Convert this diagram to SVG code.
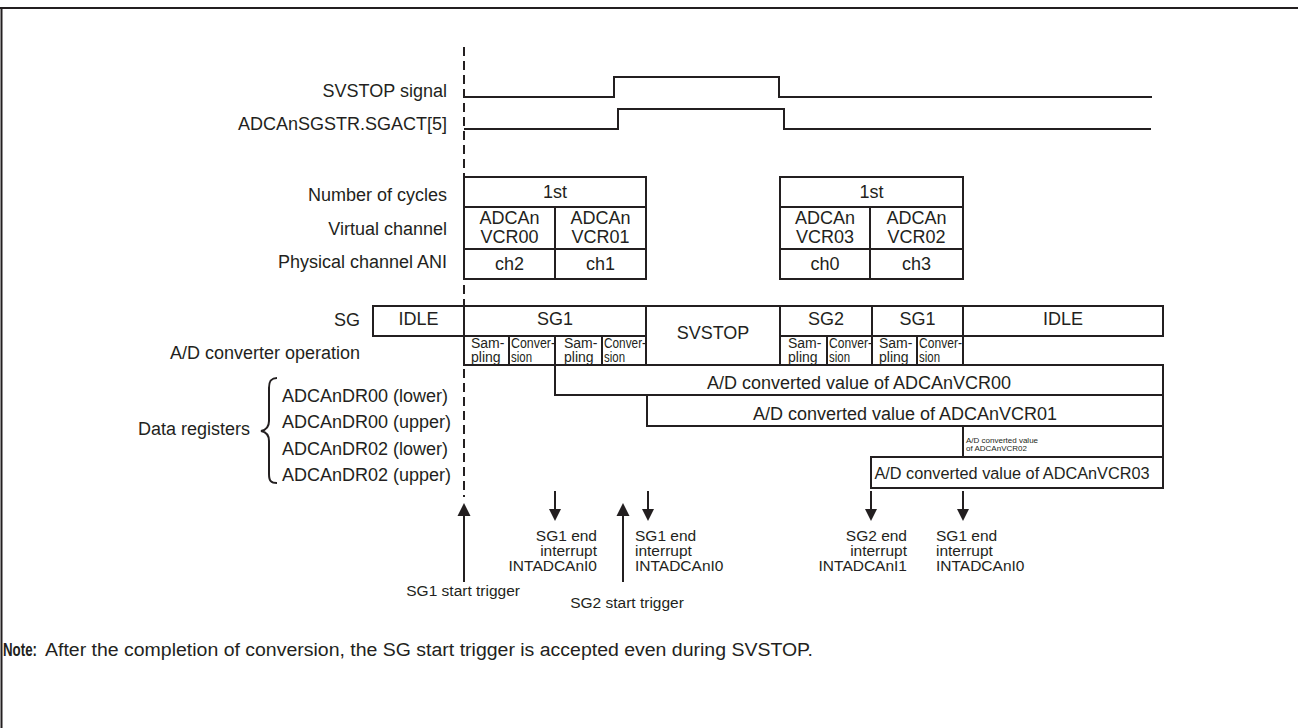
<svg xmlns="http://www.w3.org/2000/svg" width="1298" height="728" viewBox="0 0 1298 728">
<style>
.t{font-family:"Liberation Sans",Arial,sans-serif;font-size:18px;fill:#231f20}
.t16{font-family:"Liberation Sans",Arial,sans-serif;font-size:16.3px;fill:#231f20}
.m{font-family:"Liberation Sans",Arial,sans-serif;font-size:15.5px;fill:#231f20}
.s{font-family:"Liberation Sans",Arial,sans-serif;font-size:14px;fill:#231f20}
.xs{font-family:"Liberation Sans",Arial,sans-serif;font-size:8px;fill:#231f20}
.r{text-anchor:end}
.c{text-anchor:middle}
.b{fill:#fff;stroke:#231f20;stroke-width:2}
.l{fill:none;stroke:#231f20;stroke-width:2}
.ah{fill:#231f20;stroke:none}
</style>
<rect x="0" y="0" width="1298" height="728" fill="#fff"/>
<g id="frame">
<line x1="0" y1="8" x2="1298" y2="8" class="l"/>
<line x1="1.5" y1="8" x2="1.5" y2="728" class="l"/>
</g>
<g id="timeline">
<line x1="464" y1="47" x2="464" y2="497" class="l" stroke-dasharray="9 5"/>
</g>
<g id="signal-labels">
<text class="t r" x="447" y="97">SVSTOP signal</text>
<text class="t r" x="447" y="130">ADCAnSGSTR.SGACT[5]</text>
<text class="t r" x="447" y="201">Number of cycles</text>
<text class="t r" x="447" y="235">Virtual channel</text>
<text class="t r" x="447" y="268">Physical channel ANI</text>
<text class="t r" x="360" y="326">SG</text>
<text class="t r" x="360" y="359">A/D converter operation</text>
</g>
<g id="waveforms">
<polyline class="l" points="464,97 614,97 614,77 779,77 779,97 1152,97"/>
<polyline class="l" points="464,129 618,129 618,109 784,109 784,129 1151,129"/>
</g>
<g id="table-1">
<rect class="b" x="464" y="177" width="182" height="102"/>
<line class="l" x1="464" y1="207" x2="646" y2="207"/>
<line class="l" x1="464" y1="249" x2="646" y2="249"/>
<line class="l" x1="555" y1="207" x2="555" y2="279"/>
<text class="t c" x="555" y="198">1st</text>
<text class="t c" x="509.5" y="224">ADCAn</text>
<text class="t c" x="509.5" y="243">VCR00</text>
<text class="t c" x="600.5" y="224">ADCAn</text>
<text class="t c" x="600.5" y="243">VCR01</text>
<text class="t c" x="509.5" y="270">ch2</text>
<text class="t c" x="600.5" y="270">ch1</text>
</g>
<g id="table-2">
<rect class="b" x="780" y="177" width="183" height="102"/>
<line class="l" x1="780" y1="207" x2="963" y2="207"/>
<line class="l" x1="780" y1="249" x2="963" y2="249"/>
<line class="l" x1="870" y1="207" x2="870" y2="279"/>
<text class="t c" x="871.5" y="198">1st</text>
<text class="t c" x="825" y="224">ADCAn</text>
<text class="t c" x="825" y="243">VCR03</text>
<text class="t c" x="916.5" y="224">ADCAn</text>
<text class="t c" x="916.5" y="243">VCR02</text>
<text class="t c" x="825" y="270">ch0</text>
<text class="t c" x="916.5" y="270">ch3</text>
</g>
<g id="sg-idle-1">
<rect class="b" x="373" y="306" width="91" height="30"/>
<text class="t c" x="418.5" y="325">IDLE</text>
</g>
<g id="sg-sg1-a">
<rect class="b" x="464" y="306" width="182" height="59"/>
<line class="l" x1="464" y1="336" x2="646" y2="336"/>
<line class="l" x1="509" y1="336" x2="509" y2="365"/>
<line class="l" x1="555" y1="336" x2="555" y2="365"/>
<line class="l" x1="602" y1="336" x2="602" y2="365"/>
<text class="t c" x="555" y="325">SG1</text>
<text class="s" x="471" y="348">Sam-</text>
<text class="s" x="471" y="362">pling</text>
<text class="s" x="511" y="348" textLength="44" lengthAdjust="spacingAndGlyphs">Conver-</text>
<text class="s" x="511" y="362" textLength="21" lengthAdjust="spacingAndGlyphs">sion</text>
<text class="s" x="564" y="348">Sam-</text>
<text class="s" x="564" y="362">pling</text>
<text class="s" x="604" y="348" textLength="42" lengthAdjust="spacingAndGlyphs">Conver-</text>
<text class="s" x="604" y="362" textLength="21" lengthAdjust="spacingAndGlyphs">sion</text>
</g>
<g id="sg-svstop">
<rect class="b" x="646" y="306" width="134" height="59"/>
<text class="t c" x="713" y="339">SVSTOP</text>
</g>
<g id="sg-sg2-sg1">
<rect class="b" x="780" y="306" width="183" height="59"/>
<line class="l" x1="780" y1="336" x2="963" y2="336"/>
<line class="l" x1="872" y1="306" x2="872" y2="365"/>
<line class="l" x1="827" y1="336" x2="827" y2="365"/>
<line class="l" x1="917" y1="336" x2="917" y2="365"/>
<text class="t c" x="826" y="325">SG2</text>
<text class="t c" x="917.5" y="325">SG1</text>
<text class="s" x="788" y="348">Sam-</text>
<text class="s" x="788" y="362">pling</text>
<text class="s" x="829" y="348" textLength="43" lengthAdjust="spacingAndGlyphs">Conver-</text>
<text class="s" x="829" y="362" textLength="21" lengthAdjust="spacingAndGlyphs">sion</text>
<text class="s" x="879" y="348">Sam-</text>
<text class="s" x="879" y="362">pling</text>
<text class="s" x="919" y="348" textLength="43" lengthAdjust="spacingAndGlyphs">Conver-</text>
<text class="s" x="919" y="362" textLength="21" lengthAdjust="spacingAndGlyphs">sion</text>
</g>
<g id="sg-idle-2">
<rect class="b" x="963" y="306" width="200" height="30"/>
<text class="t c" x="1063" y="325">IDLE</text>
</g>
<g id="data-register-labels">
<text class="t r" x="250" y="435">Data registers</text>
<path class="l" d="M277,378 C271,378 269,381 269,388 L269,421 C269,427 266,430 261,431 C266,432 269,435 269,441 L269,474 C269,481 271,483 277,483"/>
<text class="t" x="282" y="402">ADCAnDR00 (lower)</text>
<text class="t" x="282" y="428">ADCAnDR00 (upper)</text>
<text class="t" x="282" y="455">ADCAnDR02 (lower)</text>
<text class="t" x="282" y="481">ADCAnDR02 (upper)</text>
</g>
<g id="value-vcr00">
<rect class="b" x="555" y="365" width="608" height="30"/>
<text class="t c" x="859" y="389">A/D converted value of ADCAnVCR00</text>
</g>
<g id="value-vcr01">
<rect class="b" x="647" y="395" width="516" height="31"/>
<text class="t c" x="905" y="420">A/D converted value of ADCAnVCR01</text>
</g>
<g id="value-vcr02">
<rect class="b" x="963" y="426" width="200" height="31"/>
<text class="xs" x="966" y="443">A/D converted value</text>
<text class="xs" x="966" y="451">of ADCAnVCR02</text>
</g>
<g id="value-vcr03">
<rect class="b" x="871" y="457" width="292" height="31"/>
<text class="t16 c" x="1012" y="479">A/D converted value of ADCAnVCR03</text>
</g>
<g id="connectors">
<line class="l" x1="464" y1="582" x2="464" y2="512"/>
<polygon class="ah" points="464,503 457.5,516 470.5,516"/>
<line class="l" x1="623" y1="582" x2="623" y2="512"/>
<polygon class="ah" points="623,503 616.5,516 629.5,516"/>
<line class="l" x1="555" y1="491" x2="555" y2="512"/>
<polygon class="ah" points="555,521 549,509 561,509"/>
<line class="l" x1="648" y1="491" x2="648" y2="512"/>
<polygon class="ah" points="648,521 642,509 654,509"/>
<line class="l" x1="871" y1="491" x2="871" y2="512"/>
<polygon class="ah" points="871,521 865,509 877,509"/>
<line class="l" x1="963" y1="491" x2="963" y2="512"/>
<polygon class="ah" points="963,521 957,509 969,509"/>
</g>
<g id="annotations">
<text class="m r" x="597" y="541">SG1 end</text>
<text class="m r" x="597" y="556">interrupt</text>
<text class="m r" x="597" y="571">INTADCAnI0</text>
<text class="m" x="635" y="541">SG1 end</text>
<text class="m" x="635" y="556">interrupt</text>
<text class="m" x="635" y="571">INTADCAnI0</text>
<text class="m r" x="907" y="541">SG2 end</text>
<text class="m r" x="907" y="556">interrupt</text>
<text class="m r" x="907" y="571">INTADCAnI1</text>
<text class="m" x="936" y="541">SG1 end</text>
<text class="m" x="936" y="556">interrupt</text>
<text class="m" x="936" y="571">INTADCAnI0</text>
<text class="m r" x="520" y="596">SG1 start trigger</text>
<text class="m c" x="627" y="608">SG2 start trigger</text>
</g>
<g id="note">
<text class="t" x="3" y="656" font-size="16" font-weight="bold" textLength="34" lengthAdjust="spacingAndGlyphs">Note:</text>
<text class="t" x="45" y="656" textLength="768" lengthAdjust="spacingAndGlyphs">After the completion of conversion, the SG start trigger is accepted even during SVSTOP.</text>
</g>
</svg>
